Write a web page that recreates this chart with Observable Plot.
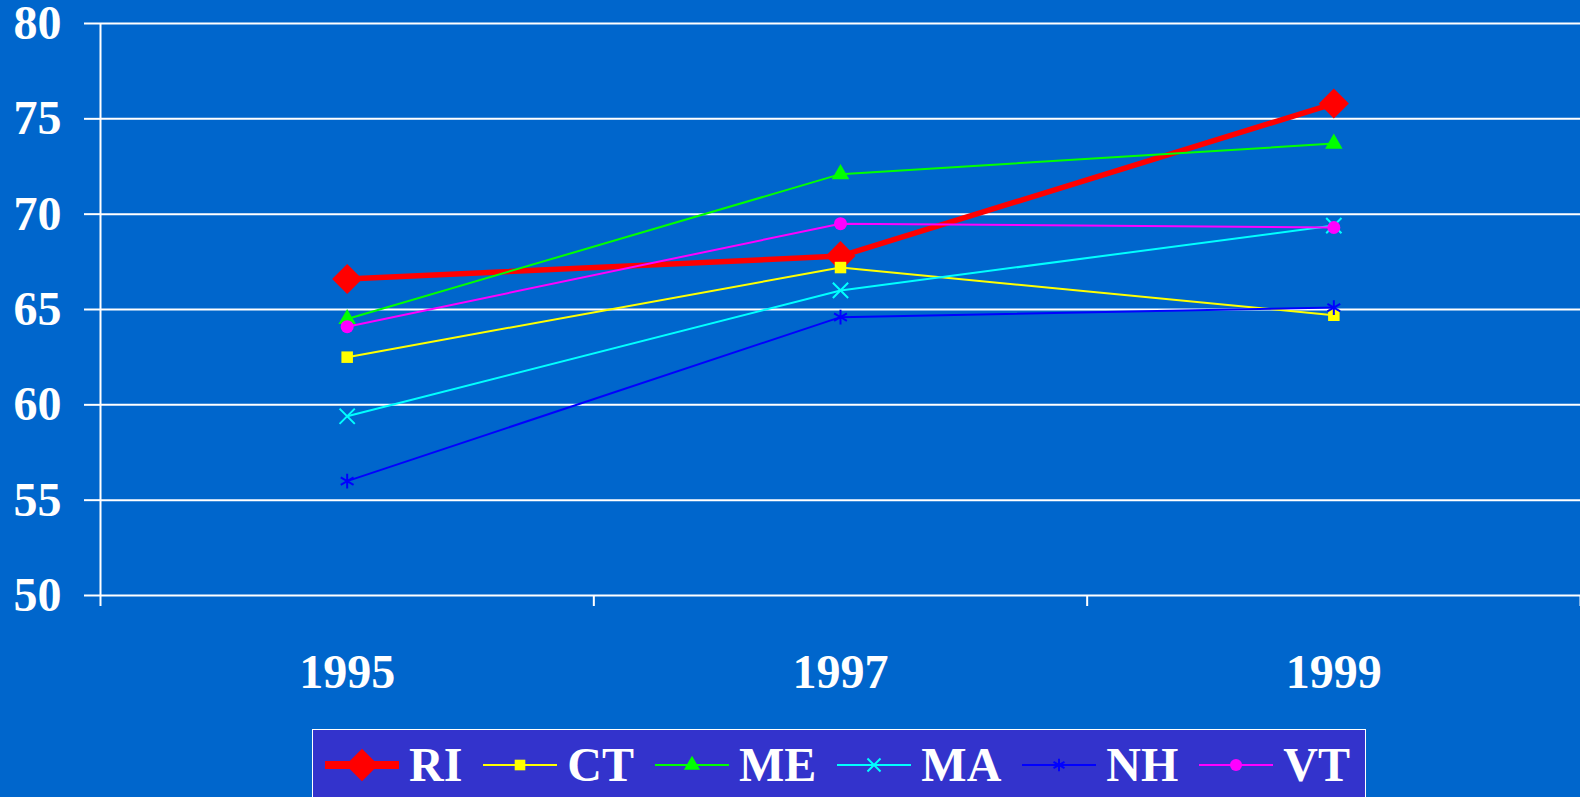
<!DOCTYPE html>
<html>
<head>
<meta charset="utf-8">
<script src="https://cdn.jsdelivr.net/npm/d3@7"></script>
<script src="https://cdn.jsdelivr.net/npm/@observablehq/plot@0.6"></script>
<style>
  html, body { margin: 0; padding: 0; background: #0066CC; width: 1580px; height: 797px; overflow: hidden; }
  #chart { position: absolute; left: 0; top: 0; }
  #legend { position: absolute; left: 312px; top: 729px; width: 1054px; height: 80px; background: #3333CC;
            border: 1.5px solid #ffffff; box-sizing: border-box; display: flex; align-items: flex-start; padding-left: 12px; padding-top: 7px; }
  .item { display: flex; align-items: center; margin-right: 21px; }
  .item span { font-family: "Liberation Serif", "Times New Roman", serif; font-weight: bold; font-size: 48px; color: #fff; margin-left: 10px; line-height: 56px; }
</style>
</head>
<body>
<div id="chart"></div>
<div id="legend"></div>
<script>
const years = [1995, 1997, 1999];
const states = ["RI", "CT", "ME", "MA", "NH", "VT"];
const RI = [66.6, 67.8, 75.8];
const CT = [62.5, 67.2, 64.7];
const ME = [64.5, 72.1, 73.7];
const MA = [59.4, 66.0, 69.4];
const NH = [56.0, 64.6, 65.1];
const VT = [64.1, 69.5, 69.3];
const yTicks = [50, 55, 60, 65, 70, 75, 80];
const colors = ["#FF0000", "#FFFF00", "#00FF00", "#00FFFF", "#0000FF", "#FF00FF"];

const seriesValues = {RI, CT, ME, MA, NH, VT};

// square diamond (rotated square) symbol
const diamondSq = {
  draw(ctx, size) {
    const h = Math.sqrt(size / 2);
    ctx.moveTo(0, -h); ctx.lineTo(h, 0); ctx.lineTo(0, h); ctx.lineTo(-h, 0); ctx.closePath();
  }
};

const styles = {
  RI: {symbol: diamondSq, r: 12, filled: true, lw: 5.5},
  CT: {symbol: "square", r: 6.5, filled: true, lw: 2},
  ME: {symbol: "triangle", r: 6.5, filled: true, lw: 2},
  MA: {symbol: "times", r: 7, filled: false, lw: 2},
  NH: {symbol: "asterisk", r: 7, filled: false, lw: 2},
  VT: {symbol: "circle", r: 6.5, filled: true, lw: 2}
};

const marks = [
  Plot.ruleY(yTicks, {stroke: "white", strokeWidth: 2}),
  Plot.ruleX([1994], {y1: 50, y2: 80, stroke: "white", strokeWidth: 2}),
  Plot.axisY({ticks: yTicks, tickSize: 16, tickPadding: 23, fontSize: 48, fontWeight: "bold", strokeWidth: 2, label: null}),
  Plot.axisX({ticks: [1994, 1996, 1998, 2000], tickSize: 11, tickFormat: () => "", strokeWidth: 2, label: null}),
  Plot.axisX({ticks: years, tickSize: 0, tickPadding: 58, tickFormat: d => String(d), fontSize: 48, fontWeight: "bold", label: null})
];

states.forEach((s, i) => {
  const data = years.map((yr, j) => ({year: yr, value: seriesValues[s][j]}));
  const st = styles[s];
  marks.push(Plot.line(data, {x: "year", y: "value", stroke: colors[i], strokeWidth: st.lw}));
  if (st.filled) {
    marks.push(Plot.dot(data, {x: "year", y: "value", symbol: st.symbol, r: st.r, fill: colors[i], stroke: "none"}));
  } else {
    marks.push(Plot.dot(data, {x: "year", y: "value", symbol: st.symbol, r: st.r, stroke: colors[i], strokeWidth: 2, fill: "none"}));
  }
});

const chart = Plot.plot({
  width: 1580,
  height: 720,
  marginLeft: 100,
  marginRight: 0,
  marginTop: 23,
  marginBottom: 125,
  x: {type: "linear", domain: [1994, 2000]},
  y: {domain: [50, 80]},
  style: {background: "#0066CC", color: "white", fontFamily: "'Liberation Serif', 'Times New Roman', serif", fontWeight: "bold", overflow: "visible"},
  marks
});
document.getElementById("chart").appendChild(chart);

// legend
const legend = document.getElementById("legend");
states.forEach((s, i) => {
  const st = styles[s];
  const item = document.createElement("div");
  item.className = "item";
  const svg = d3.create("svg").attr("width", 74).attr("height", 56);
  svg.append("line").attr("x1", 0).attr("x2", 74).attr("y1", 28).attr("y2", 28)
    .attr("stroke", colors[i]).attr("stroke-width", s === "RI" ? 8 : 2);
  let gen;
  const r = s === "RI" ? 13 : 6;
  const size = Math.PI * r * r;
  if (s === "RI") gen = d3.symbol(diamondSq, size);
  else if (s === "CT") gen = d3.symbol(d3.symbolSquare, size);
  else if (s === "ME") gen = d3.symbol(d3.symbolTriangle, size);
  else if (s === "MA") gen = d3.symbol(d3.symbolTimes, size);
  else if (s === "NH") gen = d3.symbol(d3.symbolAsterisk, size);
  else gen = d3.symbol(d3.symbolCircle, size);
  const p = svg.append("path").attr("d", gen()).attr("transform", "translate(37,28)");
  if (st.filled) p.attr("fill", colors[i]);
  else p.attr("fill", "none").attr("stroke", colors[i]).attr("stroke-width", 2);
  item.appendChild(svg.node());
  const t = document.createElement("span");
  t.textContent = s;
  item.appendChild(t);
  legend.appendChild(item);
});
</script>
</body>
</html>
